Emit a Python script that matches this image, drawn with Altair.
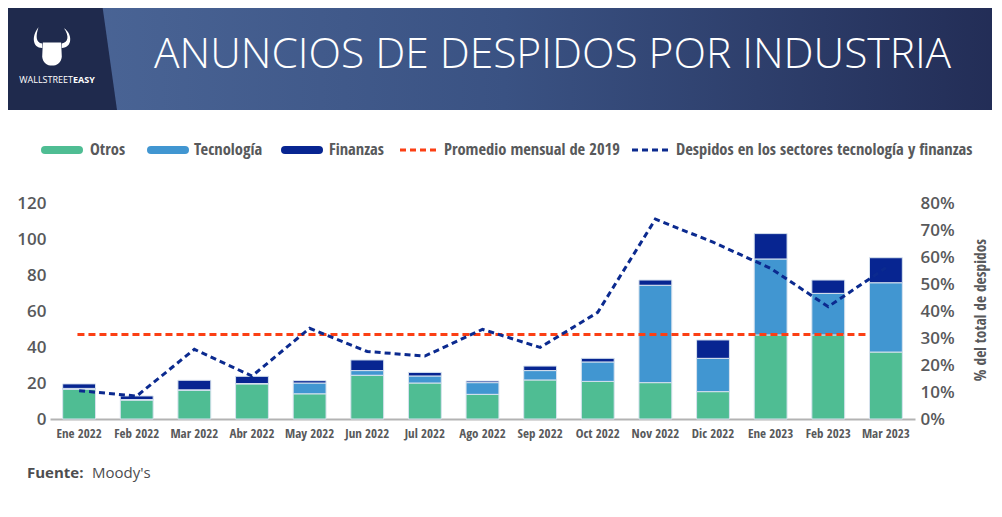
import altair as alt
import pandas as pd

# ---------------- data ----------------
months = ["Ene 2022", "Feb 2022", "Mar 2022", "Abr 2022", "May 2022", "Jun 2022",
          "Jul 2022", "Ago 2022", "Sep 2022", "Oct 2022", "Nov 2022", "Dic 2022",
          "Ene 2023", "Feb 2023", "Mar 2023"]
otros = [16.5, 10.5, 16.0, 19.5, 14.0, 24.3, 20.0, 13.7, 21.7, 20.9, 20.2, 15.2, 46.7, 46.7, 37.2]
tecnologia = [0.5, 0.3, 0.2, 0.2, 6.0, 2.6, 3.9, 6.5, 5.2, 10.8, 54.1, 18.5, 42.2, 23.1, 38.5]
finanzas = [2.5, 2.0, 5.3, 4.0, 1.3, 5.9, 2.0, 0.9, 2.5, 2.0, 2.9, 10.2, 14.1, 7.4, 13.9]
pct_tec_fin = [0.105, 0.085, 0.258, 0.159, 0.336, 0.25, 0.233, 0.332, 0.265, 0.395,
               0.74, 0.655, 0.558, 0.416, 0.56]
promedio_2019 = 47
series_names = ["Otros", "Tecnología", "Finanzas"]
series_colors = ["#4fbd93", "#4196d1", "#072591"]
left_ticks = [0, 20, 40, 60, 80, 100, 120]
right_ticks = [0, 0.1, 0.2, 0.3, 0.4, 0.5, 0.6, 0.7, 0.8]

# ---------------- tables ----------------
rows = []
for i, m in enumerate(months):
    for k, (name, vals) in enumerate(zip(series_names, [otros, tecnologia, finanzas])):
        rows.append({"mes": m, "serie": name, "valor": vals[i], "orden": k})
bars_df = pd.DataFrame(rows)
line_df = pd.DataFrame({"mes": months, "pct": pct_tec_fin})
avg_df = pd.DataFrame({"mes": [months[0]], "mes_fin": [months[-1]], "avg": [promedio_2019]})
one = pd.DataFrame({"a": [0]})

NARROW = "Open Sans Condensed, Roboto Condensed, Liberation Sans Narrow, Roboto, sans-serif"
GEO = "Open Sans, Lato, sans-serif"
GREY = "#58595b"

W, H = 865, 216
PAD = {"left": 42, "top": 195, "right": 77, "bottom": 85}


def rx(xp):
    return xp - 50


def ry(yp):
    return yp - 203


xscale = alt.Scale(domain=months, paddingInner=0.43, paddingOuter=0.22)
xaxis = alt.Axis(title=None, labelAngle=0, ticks=False, domainColor="#b3b3b3", domainWidth=2,
                 labelFont=NARROW, labelFontWeight="bold", labelFontSize=13, labelColor=GREY,
                 labelPadding=8, labelOverlap=False)
yscale_left = alt.Scale(domain=[0, 120], nice=False)
yaxis_left = alt.Axis(title=None, values=left_ticks, grid=False, ticks=False, domain=False,
                      labelFont=GEO, labelFontWeight=600, labelFontSize=17, labelColor=GREY,
                      labelPadding=4, labelOverlap=False)

bars = alt.Chart(bars_df).mark_bar(stroke="#d7e2ee", strokeWidth=1).encode(
    x=alt.X("mes:N", scale=xscale, axis=xaxis),
    y=alt.Y("sum(valor):Q", scale=yscale_left, stack="zero", axis=yaxis_left),
    color=alt.Color("serie:N", scale=alt.Scale(domain=series_names, range=series_colors), legend=None),
    order=alt.Order("orden:Q", sort="ascending"),
)

avg_rule = alt.Chart(avg_df).mark_rule(color="#fb3f14", strokeWidth=3, strokeDash=[7, 4]).encode(
    x=alt.X("mes:N", scale=xscale, bandPosition=0.45, axis=xaxis),
    x2=alt.X2("mes_fin:N", bandPosition=0.0),
    y=alt.Y("avg:Q", scale=yscale_left, axis=yaxis_left),
)

left_layer = alt.layer(bars, avg_rule)

line = alt.Chart(line_df).mark_line(color="#0b2a8f", strokeWidth=3, strokeDash=[6, 4]).encode(
    x=alt.X("mes:N", scale=xscale, axis=xaxis),
    y=alt.Y("pct:Q", scale=alt.Scale(domain=[0, 0.8], nice=False),
            axis=alt.Axis(orient="right", title=None, format=".0%",
                          values=right_ticks, grid=False, ticks=False, domain=False,
                          labelFont=GEO, labelFontWeight=600, labelFontSize=17, labelColor=GREY,
                          labelPadding=5, labelOverlap=False)),
)

data_layer = alt.layer(left_layer, line).resolve_scale(y="independent")

# ---------------- decorations ----------------
deco = []
# header band with gradient
deco.append(alt.Chart(one).mark_rect(
    color=alt.Gradient(gradient="linear", x1=0, x2=1, y1=0, y2=0,
                       stops=[alt.GradientStop(color="#4d6899", offset=0),
                              alt.GradientStop(color="#3a5283", offset=0.5),
                              alt.GradientStop(color="#222c55", offset=1)])
).encode(x=alt.value(rx(0)), x2=alt.value(rx(1010)), y=alt.value(ry(-10)), y2=alt.value(ry(110))))
# dark slanted logo panel
panel_path = "M -1.4 -1.1 L 0.692 -1.1 L 0.975 0.917 L -1.4 0.917 Z"
deco.append(alt.Chart(one).mark_point(shape=panel_path, filled=True, color="#1f2a4d", opacity=1,
                                      size=14400, strokeWidth=0).encode(
    x=alt.value(rx(58.5)), y=alt.value(ry(55))))
# logo glyph
logo_path = ("M -0.62 -1 C -0.95 -0.6 -0.9 -0.05 -0.45 -0.05 L -0.45 -0.25 C -0.75 -0.3 -0.75 -0.6 -0.62 -1 Z "
             "M 0.55 -0.95 C 0.95 -0.7 0.95 -0.05 0.45 -0.05 L 0.45 -0.25 C 0.75 -0.3 0.8 -0.6 0.55 -0.95 Z "
             "M -0.42 -0.3 L 0.42 -0.3 L 0.45 0.35 C 0.4 0.9 -0.4 0.9 -0.45 0.35 Z")
deco.append(alt.Chart(one).mark_point(shape=logo_path, filled=True, color="white", opacity=1,
                                      size=1900, strokeWidth=0).encode(
    x=alt.value(rx(52)), y=alt.value(ry(49))))
deco.append(alt.Chart(one).mark_text(text="WALLSTREET", align="right", baseline="middle",
                                     font="Open Sans", fontSize=9, color="white").encode(
    x=alt.value(rx(73)), y=alt.value(ry(80))))
deco.append(alt.Chart(one).mark_text(text="EASY", align="left", baseline="middle",
                                     font="Open Sans", fontSize=9, fontWeight="bold", color="white").encode(
    x=alt.value(rx(73)), y=alt.value(ry(80))))
# title
deco.append(alt.Chart(one).mark_text(text="ANUNCIOS DE DESPIDOS POR INDUSTRIA", align="left",
                                     baseline="middle", font=GEO, fontSize=42.5, fontWeight=300,
                                     color="white").encode(
    x=alt.value(rx(154)), y=alt.value(ry(55))))

# legend
LY = 150
LEG_SIZE = 16.5
legend_bars = [(41, 83, 90, "Otros", series_colors[0]),
               (147, 189, 194, "Tecnología", series_colors[1]),
               (281, 323, 329, "Finanzas", series_colors[2])]
for x0, x1, xt, label, col in legend_bars:
    deco.append(alt.Chart(one).mark_rule(color=col, strokeWidth=8, strokeCap="round").encode(
        x=alt.value(rx(x0 + 4)), x2=alt.value(rx(x1 - 4)), y=alt.value(ry(LY))))
    deco.append(alt.Chart(one).mark_text(text=label, align="left", baseline="middle", font=NARROW,
                                         fontWeight="bold", fontSize=LEG_SIZE, color=GREY).encode(
        x=alt.value(rx(xt)), y=alt.value(ry(LY))))
legend_lines = [(400, 436, 444, "Promedio mensual de 2019", "#fb3f14"),
                (632, 668, 676, "Despidos en los sectores tecnología y finanzas", "#0b2a8f")]
for x0, x1, xt, label, col in legend_lines:
    deco.append(alt.Chart(one).mark_rule(color=col, strokeWidth=3, strokeDash=[6, 4]).encode(
        x=alt.value(rx(x0)), x2=alt.value(rx(x1)), y=alt.value(ry(LY))))
    deco.append(alt.Chart(one).mark_text(text=label, align="left", baseline="middle", font=NARROW,
                                         fontWeight="bold", fontSize=LEG_SIZE, color=GREY).encode(
        x=alt.value(rx(xt)), y=alt.value(ry(LY))))

# right axis title
deco.append(alt.Chart(one).mark_text(text="% del total de despidos", align="center", baseline="middle",
                                     angle=270, font=NARROW, fontWeight="bold", fontSize=15.5,
                                     color=GREY).encode(
    x=alt.value(rx(981)), y=alt.value(ry(310))))

# footer
deco.append(alt.Chart(one).mark_text(text="Fuente:", align="left", baseline="middle", font=GEO,
                                     fontWeight="bold", fontSize=15, color="#4d4d4f").encode(
    x=alt.value(rx(27)), y=alt.value(ry(473))))
deco.append(alt.Chart(one).mark_text(text="Moody's", align="left", baseline="middle", font=GEO,
                                     fontSize=15, color="#4d4d4f").encode(
    x=alt.value(rx(92)), y=alt.value(ry(473))))

chart = alt.layer(data_layer, *deco).properties(
    width=W, height=H, padding=PAD, autosize=alt.AutoSizeParams(type="none"), background="white"
).configure_view(stroke=None)

chart.save("out.html", embed_options={"renderer": "svg", "actions": False})
